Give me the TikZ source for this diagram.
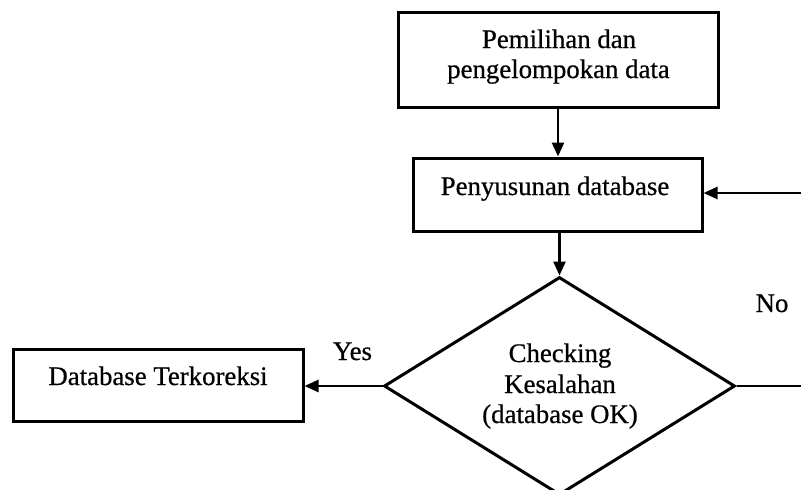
\documentclass[tikz,border=0pt]{standalone}
\usepackage{fontspec}
\setmainfont{Liberation Serif}[UprightFeatures={FakeBold=0.6}]
\usetikzlibrary{arrows.meta,shapes.geometric}

\tikzset{
  label text/.style={font=\fontsize{26.8}{30.5}\selectfont, anchor=base, inner sep=0pt},
  procbox/.style={draw, line width=3pt, inner sep=0pt, rectangle},
  decision/.style={draw, line width=3pt, inner sep=0pt, diamond},
  flow/.style={line width=2.6pt, -{Triangle[length=14pt,width=12pt]}},
  plainflow/.style={line width=2.6pt}
}

\begin{document}
\begin{tikzpicture}[x=1pt,y=-1pt]
  \useasboundingbox (0,0) rectangle (801,490);
  \clip (0,0) rectangle (801,490);

  % process boxes
  \node[procbox, minimum width=320pt, minimum height=95pt] (select) at (558,60) {};
  \node[procbox, minimum width=289pt, minimum height=73pt] (build) at (557.5,194.5) {};
  \node[procbox, minimum width=290pt, minimum height=72pt] (done) at (158,385) {};

  % decision
  \node[decision, minimum width=351pt, minimum height=218pt] (check) at (559.5,386) {};

  % texts
  \node[label text] (t1a) at (559,48) {Pemilihan dan};
  \node[label text] (t1b) at (558.5,78) {pengelompokan data};
  \node[label text] (t2) at (555,195) {Penyusunan database};
  \node[label text] (t3a) at (560,362) {Checking};
  \node[label text] (t3b) at (560,393) {Kesalahan};
  \node[label text] (t3c) at (560,423) {(database OK)};
  \node[label text] (t4) at (158,385) {Database Terkoreksi};
  \node[label text] (yes) at (352.5,360) {Yes};
  \node[label text] (no) at (772,312) {No};

  % loop ends leaving the frame on the right
  \coordinate (loopin) at (801,193);
  \coordinate (loopout) at (801,386);

  % connectors
  \draw[flow] (select.south) -- (select.south |- build.north);
  \draw[flow] (build.south -| check.north) -- (check.north);
  \draw[flow] (check.west) -- (done.east |- check.west);
  \draw[plainflow] (check.east) -- (loopout);
  \draw[flow] (loopin) -- (loopin -| build.east);
\end{tikzpicture}
\end{document}
